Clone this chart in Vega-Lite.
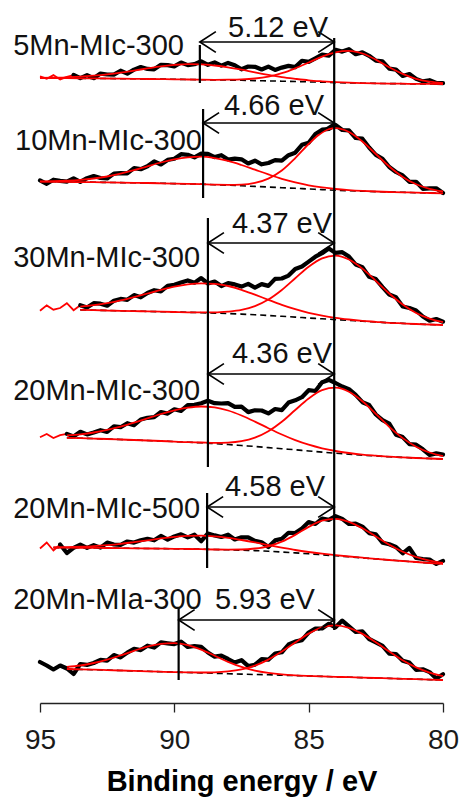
{
  "$schema": "https://vega.github.io/schema/vega-lite/v6.json",
  "width": 403,
  "height": 703,
  "autosize": {"type": "none"},
  "padding": {"left": 40, "right": 19, "top": 0, "bottom": 95},
  "background": "white",
  "config": {"view": {"stroke": null}},
  "datasets": {
    "range": [
      {"s": 1, "lo": 93.75}, {"s": 2, "lo": 95}, {"s": 3, "lo": 93.5},
      {"s": 4, "lo": 94}, {"s": 5, "lo": 94.25}, {"s": 6, "lo": 95}
    ],
    "names": [
      {"label": "5Mn-MIc-300", "x": 96, "i": 648},
      {"label": "10Mn-MIc-300", "x": 95.93, "i": 553},
      {"label": "30Mn-MIc-300", "x": 96, "i": 436},
      {"label": "20Mn-MIc-300", "x": 96, "i": 303},
      {"label": "20Mn-MIc-500", "x": 96, "i": 185},
      {"label": "20Mn-MIa-300", "x": 96, "i": 94}
    ],
    "splits": [
      {"label": "5.12 eV", "x": 86.14, "i": 666},
      {"label": "4.66 eV", "x": 86.29, "i": 588},
      {"label": "4.37 eV", "x": 85.99, "i": 470},
      {"label": "4.36 eV", "x": 85.99, "i": 340},
      {"label": "4.58 eV", "x": 86.25, "i": 207},
      {"label": "5.93 eV", "x": 86.63, "i": 94}
    ],
    "arrows": [
      {"s": 1, "x": 89.05, "x2": 84.05, "i": 661},
      {"s": 2, "x": 88.93, "x2": 84.05, "i": 580},
      {"s": 3, "x": 88.75, "x2": 84.05, "i": 460},
      {"s": 4, "x": 88.75, "x2": 84.05, "i": 329},
      {"s": 5, "x": 88.78, "x2": 84.05, "i": 196},
      {"s": 6, "x": 89.84, "x2": 84.05, "i": 83}
    ],
    "vlines": [
      {"x": 84.05, "i": 665, "i2": 73},
      {"x": 89.05, "i": 658, "i2": 620},
      {"x": 88.93, "i": 594, "i2": 505},
      {"x": 88.75, "i": 485, "i2": 236},
      {"x": 88.78, "i": 210, "i2": 135},
      {"x": 89.84, "i": 96, "i2": 23}
    ],
    "fit": [
      {"s":1,"x":95,"b":625,"p":625.2,"q":625},
      {"s":1,"x":94.5,"b":624.9,"p":625.4,"q":624.9},
      {"s":1,"x":94,"b":624.8,"p":625.7,"q":624.8},
      {"s":1,"x":93.5,"b":624.7,"p":626.3,"q":624.7},
      {"s":1,"x":93,"b":624.6,"p":627.3,"q":624.6},
      {"s":1,"x":92.5,"b":624.5,"p":628.6,"q":624.5},
      {"s":1,"x":92,"b":624.3,"p":630.3,"q":624.3},
      {"s":1,"x":91.5,"b":624.2,"p":632.4,"q":624.2},
      {"s":1,"x":91,"b":624,"p":634.6,"q":624},
      {"s":1,"x":90.5,"b":623.9,"p":636.7,"q":623.9},
      {"s":1,"x":90,"b":623.7,"p":638.1,"q":623.7},
      {"s":1,"x":89.5,"b":623.5,"p":638.9,"q":623.5},
      {"s":1,"x":89,"b":623.3,"p":638.7,"q":623.3},
      {"s":1,"x":88.5,"b":623.1,"p":637.5,"q":623.2},
      {"s":1,"x":88,"b":622.9,"p":635.7,"q":623.3},
      {"s":1,"x":87.5,"b":622.7,"p":633.3,"q":623.6},
      {"s":1,"x":87,"b":622.4,"p":630.6,"q":624.5},
      {"s":1,"x":86.5,"b":622.1,"p":628.1,"q":626.4},
      {"s":1,"x":86,"b":621.8,"p":625.9,"q":629.8},
      {"s":1,"x":85.5,"b":621.5,"p":624.2,"q":634.7},
      {"s":1,"x":85,"b":621.1,"p":622.7,"q":640.5},
      {"s":1,"x":84.5,"b":620.8,"p":621.7,"q":646.4},
      {"s":1,"x":84,"b":620.4,"p":620.9,"q":650.7},
      {"s":1,"x":83.5,"b":620.1,"p":620.3,"q":652.1},
      {"s":1,"x":83,"b":619.8,"p":619.9,"q":649.5},
      {"s":1,"x":82.5,"b":619.6,"p":619.6,"q":643.4},
      {"s":1,"x":82,"b":619.4,"p":619.4,"q":635.8},
      {"s":1,"x":81.5,"b":619.3,"p":619.3,"q":629.1},
      {"s":1,"x":81,"b":619.1,"p":619.1,"q":624.1},
      {"s":1,"x":80.5,"b":619.1,"p":619.1,"q":621.3},
      {"s":1,"x":80,"b":619,"p":619,"q":619.9},

      {"s":2,"x":95,"b":521.3,"p":521.6,"q":521.3},
      {"s":2,"x":94.5,"b":521.2,"p":521.8,"q":521.2},
      {"s":2,"x":94,"b":521.1,"p":522.3,"q":521.1},
      {"s":2,"x":93.5,"b":520.9,"p":523.1,"q":520.9},
      {"s":2,"x":93,"b":520.8,"p":524.5,"q":520.8},
      {"s":2,"x":92.5,"b":520.6,"p":526.5,"q":520.6},
      {"s":2,"x":92,"b":520.4,"p":529.3,"q":520.4},
      {"s":2,"x":91.5,"b":520.2,"p":532.8,"q":520.2},
      {"s":2,"x":91,"b":520,"p":536.7,"q":520},
      {"s":2,"x":90.5,"b":519.7,"p":540.5,"q":519.7},
      {"s":2,"x":90,"b":519.4,"p":543.7,"q":519.4},
      {"s":2,"x":89.5,"b":519.1,"p":545.7,"q":519.1},
      {"s":2,"x":89,"b":518.8,"p":546.3,"q":518.8},
      {"s":2,"x":88.5,"b":518.3,"p":544.9,"q":518.3},
      {"s":2,"x":88,"b":517.8,"p":542.1,"q":518.2},
      {"s":2,"x":87.5,"b":517.2,"p":538,"q":518.4},
      {"s":2,"x":87,"b":516.6,"p":533.3,"q":520.1},
      {"s":2,"x":86.5,"b":516,"p":528.6,"q":524.4},
      {"s":2,"x":86,"b":515.3,"p":524.2,"q":532.5},
      {"s":2,"x":85.5,"b":514.7,"p":520.6,"q":544.9},
      {"s":2,"x":85,"b":514,"p":517.7,"q":559},
      {"s":2,"x":84.5,"b":513.4,"p":515.6,"q":570.6},
      {"s":2,"x":84,"b":512.8,"p":514,"q":574.8},
      {"s":2,"x":83.5,"b":512.3,"p":512.9,"q":571},
      {"s":2,"x":83,"b":511.8,"p":512.1,"q":561.5},
      {"s":2,"x":82.5,"b":511.4,"p":511.5,"q":549},
      {"s":2,"x":82,"b":511,"p":511,"q":536.5},
      {"s":2,"x":81.5,"b":510.7,"p":510.7,"q":526.1},
      {"s":2,"x":81,"b":510.3,"p":510.3,"q":518.7},
      {"s":2,"x":80.5,"b":510,"p":510,"q":514.1},
      {"s":2,"x":80,"b":509.7,"p":509.7,"q":511.5},

      {"s":3,"x":93.5,"b":393.1,"p":396.3,"q":393.1},
      {"s":3,"x":93,"b":392.8,"p":397.8,"q":392.8},
      {"s":3,"x":92.5,"b":392.5,"p":399.8,"q":392.5},
      {"s":3,"x":92,"b":392.2,"p":402.6,"q":392.2},
      {"s":3,"x":91.5,"b":391.9,"p":405.9,"q":391.9},
      {"s":3,"x":91,"b":391.6,"p":409.5,"q":391.6},
      {"s":3,"x":90.5,"b":391.3,"p":413.1,"q":391.3},
      {"s":3,"x":90,"b":391,"p":416.3,"q":391},
      {"s":3,"x":89.5,"b":390.7,"p":418.6,"q":390.7},
      {"s":3,"x":89,"b":390.3,"p":419.6,"q":390.6},
      {"s":3,"x":88.5,"b":389.9,"p":419.2,"q":390.6},
      {"s":3,"x":88,"b":389.5,"p":417,"q":391.4},
      {"s":3,"x":87.5,"b":388.9,"p":413.2,"q":393.1},
      {"s":3,"x":87,"b":388.2,"p":408.3,"q":396.8},
      {"s":3,"x":86.5,"b":387.5,"p":403.2,"q":403.4},
      {"s":3,"x":86,"b":386.7,"p":398.2,"q":413},
      {"s":3,"x":85.5,"b":385.9,"p":393.8,"q":424.7},
      {"s":3,"x":85,"b":385,"p":390.1,"q":436.3},
      {"s":3,"x":84.5,"b":384.2,"p":387.3,"q":444.7},
      {"s":3,"x":84,"b":383.4,"p":385.1,"q":447.4},
      {"s":3,"x":83.5,"b":382.6,"p":383.5,"q":443.5},
      {"s":3,"x":83,"b":381.7,"p":382.2,"q":434.4},
      {"s":3,"x":82.5,"b":381,"p":381.2,"q":422.2},
      {"s":3,"x":82,"b":380.2,"p":380.2,"q":409.5},
      {"s":3,"x":81.5,"b":379.6,"p":379.6,"q":398.5},
      {"s":3,"x":81,"b":379,"p":379,"q":390},
      {"s":3,"x":80.5,"b":378.5,"p":378.5,"q":384.4},
      {"s":3,"x":80,"b":378,"p":378,"q":380.8},

      {"s":4,"x":94,"b":265.2,"p":267.6,"q":265.2},
      {"s":4,"x":93.5,"b":264.8,"p":268.7,"q":264.8},
      {"s":4,"x":93,"b":264.4,"p":270.5,"q":264.4},
      {"s":4,"x":92.5,"b":264,"p":273.1,"q":264},
      {"s":4,"x":92,"b":263.5,"p":276.3,"q":263.5},
      {"s":4,"x":91.5,"b":263,"p":280.3,"q":263},
      {"s":4,"x":91,"b":262.5,"p":284.7,"q":262.5},
      {"s":4,"x":90.5,"b":262,"p":289,"q":262},
      {"s":4,"x":90,"b":261.4,"p":292.7,"q":261.4},
      {"s":4,"x":89.5,"b":260.8,"p":295.3,"q":260.8},
      {"s":4,"x":89,"b":260.2,"p":296.5,"q":260.5},
      {"s":4,"x":88.5,"b":259.4,"p":295.6,"q":260.1},
      {"s":4,"x":88,"b":258.5,"p":292.5,"q":260.4},
      {"s":4,"x":87.5,"b":257.5,"p":287.5,"q":261.8},
      {"s":4,"x":87,"b":256.5,"p":281.4,"q":265.3},
      {"s":4,"x":86.5,"b":255.4,"p":274.8,"q":271.7},
      {"s":4,"x":86,"b":254.3,"p":268.5,"q":281.2},
      {"s":4,"x":85.5,"b":253.2,"p":262.9,"q":293},
      {"s":4,"x":85,"b":252,"p":258.3,"q":304.5},
      {"s":4,"x":84.5,"b":250.9,"p":254.7,"q":312.9},
      {"s":4,"x":84,"b":249.8,"p":252,"q":315.3},
      {"s":4,"x":83.5,"b":248.8,"p":250,"q":311.2},
      {"s":4,"x":83,"b":247.8,"p":248.4,"q":301.7},
      {"s":4,"x":82.5,"b":247,"p":247.3,"q":289.2},
      {"s":4,"x":82,"b":246.2,"p":246.3,"q":276.2},
      {"s":4,"x":81.5,"b":245.6,"p":245.6,"q":264.9},
      {"s":4,"x":81,"b":245,"p":245,"q":256.3},
      {"s":4,"x":80.5,"b":244.5,"p":244.5,"q":250.5},
      {"s":4,"x":80,"b":244,"p":244,"q":246.9},

      {"s":5,"x":94.5,"b":155.4,"p":155.7,"q":155.4},
      {"s":5,"x":94,"b":155.3,"p":155.9,"q":155.3},
      {"s":5,"x":93.5,"b":155.2,"p":156.3,"q":155.2},
      {"s":5,"x":93,"b":155.1,"p":156.9,"q":155.1},
      {"s":5,"x":92.5,"b":155,"p":157.9,"q":155},
      {"s":5,"x":92,"b":154.8,"p":159.2,"q":154.8},
      {"s":5,"x":91.5,"b":154.7,"p":160.9,"q":154.7},
      {"s":5,"x":91,"b":154.5,"p":162.7,"q":154.5},
      {"s":5,"x":90.5,"b":154.4,"p":164.6,"q":154.4},
      {"s":5,"x":90,"b":154.2,"p":166.1,"q":154.2},
      {"s":5,"x":89.5,"b":154,"p":167.1,"q":154},
      {"s":5,"x":89,"b":153.8,"p":167.3,"q":153.8},
      {"s":5,"x":88.5,"b":153.5,"p":166.6,"q":153.5},
      {"s":5,"x":88,"b":153.2,"p":165.1,"q":153.4},
      {"s":5,"x":87.5,"b":152.8,"p":163,"q":153.5},
      {"s":5,"x":87,"b":152.4,"p":160.6,"q":154.5},
      {"s":5,"x":86.5,"b":151.7,"p":157.9,"q":156.7},
      {"s":5,"x":86,"b":151,"p":155.4,"q":161.3},
      {"s":5,"x":85.5,"b":150.1,"p":153,"q":168.1},
      {"s":5,"x":85,"b":149.2,"p":151,"q":176.1},
      {"s":5,"x":84.5,"b":148.2,"p":149.3,"q":182.4},
      {"s":5,"x":84,"b":147.2,"p":147.8,"q":184.2},
      {"s":5,"x":83.5,"b":146.2,"p":146.5,"q":181.2},
      {"s":5,"x":83,"b":145.1,"p":145.3,"q":174.7},
      {"s":5,"x":82.5,"b":144.1,"p":144.1,"q":166.6},
      {"s":5,"x":82,"b":143,"p":143,"q":158.2},
      {"s":5,"x":81.5,"b":142,"p":142,"q":151.2},
      {"s":5,"x":81,"b":141,"p":141,"q":146},
      {"s":5,"x":80.5,"b":140,"p":140,"q":142.4},
      {"s":5,"x":80,"b":139,"p":139,"q":140.1},

      {"s":6,"x":94,"b":34,"p":36.1,"q":34},
      {"s":6,"x":93.5,"b":33.6,"p":37.5,"q":33.6},
      {"s":6,"x":93,"b":33.3,"p":40,"q":33.3},
      {"s":6,"x":92.5,"b":32.9,"p":43.3,"q":32.9},
      {"s":6,"x":92,"b":32.5,"p":47.6,"q":32.5},
      {"s":6,"x":91.5,"b":32.1,"p":52.2,"q":32.1},
      {"s":6,"x":91,"b":31.7,"p":56.3,"q":31.7},
      {"s":6,"x":90.5,"b":31.3,"p":59.1,"q":31.3},
      {"s":6,"x":90,"b":30.9,"p":59.9,"q":30.9},
      {"s":6,"x":89.5,"b":30.5,"p":57.9,"q":30.6},
      {"s":6,"x":89,"b":30.1,"p":53.3,"q":30.5},
      {"s":6,"x":88.5,"b":29.7,"p":47.3,"q":30.7},
      {"s":6,"x":88,"b":29.3,"p":41.2,"q":31.6},
      {"s":6,"x":87.5,"b":28.9,"p":36.1,"q":33.6},
      {"s":6,"x":87,"b":28.5,"p":32.4,"q":37.4},
      {"s":6,"x":86.5,"b":28.2,"p":30.1,"q":43.4},
      {"s":6,"x":86,"b":27.8,"p":28.6,"q":51.4},
      {"s":6,"x":85.5,"b":27.4,"p":27.7,"q":60.6},
      {"s":6,"x":85,"b":27,"p":27.1,"q":69.4},
      {"s":6,"x":84.5,"b":26.6,"p":26.6,"q":75.6},
      {"s":6,"x":84,"b":26.2,"p":26.2,"q":77.7},
      {"s":6,"x":83.5,"b":25.8,"p":25.8,"q":75.2},
      {"s":6,"x":83,"b":25.4,"p":25.4,"q":69.1},
      {"s":6,"x":82.5,"b":25,"p":25,"q":60.7},
      {"s":6,"x":82,"b":24.6,"p":24.6,"q":51.4},
      {"s":6,"x":81.5,"b":24.2,"p":24.2,"q":42.7},
      {"s":6,"x":81,"b":23.8,"p":23.8,"q":35.6},
      {"s":6,"x":80.5,"b":23.4,"p":23.4,"q":30.4},
      {"s":6,"x":80,"b":23,"p":23,"q":26.8}
    ],
    "raw": [
      {"s":1,"x":95,"i":626.7},{"s":1,"x":94.75,"i":624.3},{"s":1,"x":94.5,"i":627.9},{"s":1,"x":94.25,"i":623.6},
      {"s":1,"x":94,"i":626.2},{"s":1,"x":93.75,"i":628},{"s":1,"x":93.5,"i":624.8},{"s":1,"x":93.25,"i":627.8},
      {"s":1,"x":93,"i":624.8},{"s":1,"x":92.75,"i":629.4},{"s":1,"x":92.5,"i":628.5},{"s":1,"x":92.25,"i":628.4},
      {"s":1,"x":92,"i":632.3},{"s":1,"x":91.75,"i":629.4},{"s":1,"x":91.5,"i":633.4},{"s":1,"x":91.25,"i":636},
      {"s":1,"x":91,"i":634.1},{"s":1,"x":90.75,"i":633.7},{"s":1,"x":90.5,"i":638.2},{"s":1,"x":90.25,"i":637.9},
      {"s":1,"x":90,"i":636.6},{"s":1,"x":89.75,"i":640.5},{"s":1,"x":89.5,"i":637.9},{"s":1,"x":89.25,"i":638.8},
      {"s":1,"x":89,"i":641.7},{"s":1,"x":88.75,"i":638.2},{"s":1,"x":88.5,"i":640.6},{"s":1,"x":88.25,"i":637.4},
      {"s":1,"x":88,"i":640.1},{"s":1,"x":87.75,"i":637.7},{"s":1,"x":87.5,"i":633.7},{"s":1,"x":87.25,"i":636.5},
      {"s":1,"x":87,"i":636.2},{"s":1,"x":86.75,"i":633.5},{"s":1,"x":86.5,"i":636.4},{"s":1,"x":86.25,"i":633.1},
      {"s":1,"x":86,"i":635.4},{"s":1,"x":85.75,"i":637.1},{"s":1,"x":85.5,"i":635.9},{"s":1,"x":85.25,"i":642.2},
      {"s":1,"x":85,"i":641.1},{"s":1,"x":84.75,"i":644.7},{"s":1,"x":84.5,"i":648.3},{"s":1,"x":84.25,"i":647.3},
      {"s":1,"x":84,"i":653.2},{"s":1,"x":83.75,"i":651.4},{"s":1,"x":83.5,"i":653.8},{"s":1,"x":83.25,"i":648.8},
      {"s":1,"x":83,"i":650.6},{"s":1,"x":82.75,"i":647.2},{"s":1,"x":82.5,"i":642.4},{"s":1,"x":82.25,"i":641.7},
      {"s":1,"x":82,"i":634.3},{"s":1,"x":81.75,"i":633.4},{"s":1,"x":81.5,"i":627.1},{"s":1,"x":81.25,"i":629},
      {"s":1,"x":81,"i":624.1},{"s":1,"x":80.75,"i":621.6},{"s":1,"x":80.5,"i":622.8},{"s":1,"x":80.25,"i":620},
      {"s":1,"x":80,"i":619.9},

      {"s":2,"x":95,"i":522.6},{"s":2,"x":94.75,"i":519.2},{"s":2,"x":94.5,"i":523.3},{"s":2,"x":94.25,"i":522.1},
      {"s":2,"x":94,"i":521.3},{"s":2,"x":93.75,"i":524.7},{"s":2,"x":93.5,"i":521.1},{"s":2,"x":93.25,"i":524.8},
      {"s":2,"x":93,"i":527},{"s":2,"x":92.75,"i":525},{"s":2,"x":92.5,"i":524.5},{"s":2,"x":92.25,"i":529.4},
      {"s":2,"x":92,"i":529.8},{"s":2,"x":91.75,"i":529.6},{"s":2,"x":91.5,"i":534.8},{"s":2,"x":91.25,"i":533.8},
      {"s":2,"x":91,"i":536.7},{"s":2,"x":90.75,"i":541.6},{"s":2,"x":90.5,"i":538.5},{"s":2,"x":90.25,"i":543.1},
      {"s":2,"x":90,"i":544.2},{"s":2,"x":89.75,"i":548.8},{"s":2,"x":89.5,"i":548.2},{"s":2,"x":89.25,"i":545.6},
      {"s":2,"x":89,"i":549.3},{"s":2,"x":88.75,"i":549.2},{"s":2,"x":88.5,"i":545.9},{"s":2,"x":88.25,"i":547.8},
      {"s":2,"x":88,"i":543.5},{"s":2,"x":87.75,"i":544.4},{"s":2,"x":87.5,"i":543.7},{"s":2,"x":87.25,"i":539.5},
      {"s":2,"x":87,"i":542.3},{"s":2,"x":86.75,"i":538.7},{"s":2,"x":86.5,"i":540},{"s":2,"x":86.25,"i":542.9},
      {"s":2,"x":86,"i":542.4},{"s":2,"x":85.75,"i":547.8},{"s":2,"x":85.5,"i":550.3},{"s":2,"x":85.25,"i":558.2},
      {"s":2,"x":85,"i":560.2},{"s":2,"x":84.75,"i":569},{"s":2,"x":84.5,"i":573.3},{"s":2,"x":84.25,"i":574},
      {"s":2,"x":84,"i":578},{"s":2,"x":83.75,"i":573},{"s":2,"x":83.5,"i":572.6},{"s":2,"x":83.25,"i":565},
      {"s":2,"x":83,"i":564.3},{"s":2,"x":82.75,"i":555.5},{"s":2,"x":82.5,"i":548.1},{"s":2,"x":82.25,"i":544.2},
      {"s":2,"x":82,"i":536},{"s":2,"x":81.75,"i":531},{"s":2,"x":81.5,"i":527.6},{"s":2,"x":81.25,"i":521.2},
      {"s":2,"x":81,"i":521.2},{"s":2,"x":80.75,"i":514.2},{"s":2,"x":80.5,"i":514.6},{"s":2,"x":80.25,"i":514.7},
      {"s":2,"x":80,"i":510},

      {"s":3,"x":95,"i":392.2},{"s":3,"x":94.75,"i":397.6},{"s":3,"x":94.5,"i":393.3},{"s":3,"x":94.25,"i":395},
      {"s":3,"x":94,"i":399.8},{"s":3,"x":93.75,"i":392.8},{"s":3,"x":93.5,"i":397.8},{"s":3,"x":93.25,"i":395.5},
      {"s":3,"x":93,"i":399.8},{"s":3,"x":92.75,"i":399.3},{"s":3,"x":92.5,"i":397.3},{"s":3,"x":92.25,"i":402.2},
      {"s":3,"x":92,"i":404.1},{"s":3,"x":91.75,"i":403.2},{"s":3,"x":91.5,"i":407.9},{"s":3,"x":91.25,"i":405.7},
      {"s":3,"x":91,"i":410},{"s":3,"x":90.75,"i":412.8},{"s":3,"x":90.5,"i":411.6},{"s":3,"x":90.25,"i":417.2},
      {"s":3,"x":90,"i":418.3},{"s":3,"x":89.75,"i":420.5},{"s":3,"x":89.5,"i":422.6},{"s":3,"x":89.25,"i":420.3},
      {"s":3,"x":89,"i":424.9},{"s":3,"x":88.75,"i":419.5},{"s":3,"x":88.5,"i":421.4},{"s":3,"x":88.25,"i":416.9},
      {"s":3,"x":88,"i":419.9},{"s":3,"x":87.75,"i":418.6},{"s":3,"x":87.5,"i":416.4},{"s":3,"x":87.25,"i":419.1},
      {"s":3,"x":87,"i":415.4},{"s":3,"x":86.75,"i":418.9},{"s":3,"x":86.5,"i":417.1},{"s":3,"x":86.25,"i":424.1},
      {"s":3,"x":86,"i":424.5},{"s":3,"x":85.75,"i":427.4},{"s":3,"x":85.5,"i":434.1},{"s":3,"x":85.25,"i":436.5},
      {"s":3,"x":85,"i":441.4},{"s":3,"x":84.75,"i":446.3},{"s":3,"x":84.5,"i":449.8},{"s":3,"x":84.25,"i":454.4},
      {"s":3,"x":84,"i":450.1},{"s":3,"x":83.75,"i":450.8},{"s":3,"x":83.5,"i":446.4},{"s":3,"x":83.25,"i":438.5},
      {"s":3,"x":83,"i":435.9},{"s":3,"x":82.75,"i":426.2},{"s":3,"x":82.5,"i":423.9},{"s":3,"x":82.25,"i":415.8},
      {"s":3,"x":82,"i":408.5},{"s":3,"x":81.75,"i":405.8},{"s":3,"x":81.5,"i":396.5},{"s":3,"x":81.25,"i":395},
      {"s":3,"x":81,"i":392.5},{"s":3,"x":80.75,"i":386.5},{"s":3,"x":80.5,"i":382.4},{"s":3,"x":80.25,"i":384},
      {"s":3,"x":80,"i":381.3},

      {"s":4,"x":95,"i":265.8},{"s":4,"x":94.75,"i":269},{"s":4,"x":94.5,"i":265},{"s":4,"x":94.25,"i":267.8},
      {"s":4,"x":94,"i":269.1},{"s":4,"x":93.75,"i":266.6},{"s":4,"x":93.5,"i":271.2},{"s":4,"x":93.25,"i":268.6},
      {"s":4,"x":93,"i":270.5},{"s":4,"x":92.75,"i":272.8},{"s":4,"x":92.5,"i":271.1},{"s":4,"x":92.25,"i":276.7},
      {"s":4,"x":92,"i":275.8},{"s":4,"x":91.75,"i":279.8},{"s":4,"x":91.5,"i":277.8},{"s":4,"x":91.25,"i":283.5},
      {"s":4,"x":91,"i":285.2},{"s":4,"x":90.75,"i":285.9},{"s":4,"x":90.5,"i":291},{"s":4,"x":90.25,"i":289.4},
      {"s":4,"x":90,"i":293.7},{"s":4,"x":89.75,"i":292.1},{"s":4,"x":89.5,"i":297.8},{"s":4,"x":89.25,"i":298.2},
      {"s":4,"x":89,"i":299.8},{"s":4,"x":88.75,"i":302.2},{"s":4,"x":88.5,"i":299.8},{"s":4,"x":88.25,"i":299.5},
      {"s":4,"x":88,"i":299.9},{"s":4,"x":87.75,"i":296.1},{"s":4,"x":87.5,"i":296.3},{"s":4,"x":87.25,"i":290.9},
      {"s":4,"x":87,"i":292.7},{"s":4,"x":86.75,"i":292.5},{"s":4,"x":86.5,"i":289.6},{"s":4,"x":86.25,"i":294},
      {"s":4,"x":86,"i":292.9},{"s":4,"x":85.75,"i":300.4},{"s":4,"x":85.5,"i":302.7},{"s":4,"x":85.25,"i":305.8},
      {"s":4,"x":85,"i":312.8},{"s":4,"x":84.75,"i":312},{"s":4,"x":84.5,"i":320.7},{"s":4,"x":84.25,"i":323.1},
      {"s":4,"x":84,"i":320},{"s":4,"x":83.75,"i":316.5},{"s":4,"x":83.5,"i":313.9},{"s":4,"x":83.25,"i":308.1},
      {"s":4,"x":83,"i":300.8},{"s":4,"x":82.75,"i":298},{"s":4,"x":82.5,"i":288.5},{"s":4,"x":82.25,"i":282.8},
      {"s":4,"x":82,"i":279.3},{"s":4,"x":81.75,"i":268.3},{"s":4,"x":81.5,"i":265.9},{"s":4,"x":81.25,"i":258.9},
      {"s":4,"x":81,"i":258.3},{"s":4,"x":80.75,"i":253.7},{"s":4,"x":80.5,"i":248},{"s":4,"x":80.25,"i":249.6},
      {"s":4,"x":80,"i":248.4},

      {"s":5,"x":95,"i":154.5},{"s":5,"x":94.75,"i":160.5},{"s":5,"x":94.5,"i":152.5},{"s":5,"x":94.25,"i":158.5},
      {"s":5,"x":94,"i":150},{"s":5,"x":93.75,"i":155.1},{"s":5,"x":93.5,"i":158.3},{"s":5,"x":93.25,"i":155.1},
      {"s":5,"x":93,"i":157.9},{"s":5,"x":92.75,"i":155.4},{"s":5,"x":92.5,"i":160.4},{"s":5,"x":92.25,"i":158.5},
      {"s":5,"x":92,"i":158.2},{"s":5,"x":91.75,"i":161.5},{"s":5,"x":91.5,"i":160.4},{"s":5,"x":91.25,"i":162.8},
      {"s":5,"x":91,"i":164.2},{"s":5,"x":90.75,"i":162.7},{"s":5,"x":90.5,"i":167.1},{"s":5,"x":90.25,"i":163.4},
      {"s":5,"x":90,"i":166.6},{"s":5,"x":89.75,"i":168.7},{"s":5,"x":89.5,"i":165.6},{"s":5,"x":89.25,"i":168.3},
      {"s":5,"x":89,"i":161.8},{"s":5,"x":88.75,"i":169.5},{"s":5,"x":88.5,"i":167.6},{"s":5,"x":88.25,"i":166},
      {"s":5,"x":88,"i":168.3},{"s":5,"x":87.75,"i":163.5},{"s":5,"x":87.5,"i":165.7},{"s":5,"x":87.25,"i":165.6},
      {"s":5,"x":87,"i":162.2},{"s":5,"x":86.75,"i":160.7},{"s":5,"x":86.5,"i":156},{"s":5,"x":86.25,"i":162.6},
      {"s":5,"x":86,"i":164.2},{"s":5,"x":85.75,"i":170.2},{"s":5,"x":85.5,"i":170},{"s":5,"x":85.25,"i":174.5},
      {"s":5,"x":85,"i":180.9},{"s":5,"x":84.75,"i":179},{"s":5,"x":84.5,"i":184.5},{"s":5,"x":84.25,"i":183.1},
      {"s":5,"x":84,"i":186.8},{"s":5,"x":83.75,"i":184.1},{"s":5,"x":83.5,"i":179},{"s":5,"x":83.25,"i":179.4},
      {"s":5,"x":83,"i":176.4},{"s":5,"x":82.75,"i":169.9},{"s":5,"x":82.5,"i":168.6},{"s":5,"x":82.25,"i":160.3},
      {"s":5,"x":82,"i":158.7},{"s":5,"x":81.75,"i":156},{"s":5,"x":81.5,"i":149.7},{"s":5,"x":81.25,"i":155},
      {"s":5,"x":81,"i":145},{"s":5,"x":80.75,"i":144},{"s":5,"x":80.5,"i":143.4},{"s":5,"x":80.25,"i":139.1},
      {"s":5,"x":80,"i":142.1},

      {"s":6,"x":95,"i":41},{"s":6,"x":94.75,"i":37.5},{"s":6,"x":94.5,"i":33.5},{"s":6,"x":94.25,"i":37.5},
      {"s":6,"x":94,"i":34.5},{"s":6,"x":93.75,"i":29},{"s":6,"x":93.5,"i":39},{"s":6,"x":93.25,"i":38.1},
      {"s":6,"x":93,"i":40},{"s":6,"x":92.75,"i":43.1},{"s":6,"x":92.5,"i":42.3},{"s":6,"x":92.25,"i":47.9},
      {"s":6,"x":92,"i":45.6},{"s":6,"x":91.75,"i":50.4},{"s":6,"x":91.5,"i":54.2},{"s":6,"x":91.25,"i":52.9},
      {"s":6,"x":91,"i":57.3},{"s":6,"x":90.75,"i":55.4},{"s":6,"x":90.5,"i":60.6},{"s":6,"x":90.25,"i":59.7},
      {"s":6,"x":90,"i":58.9},{"s":6,"x":89.75,"i":61.3},{"s":6,"x":89.5,"i":56},{"s":6,"x":89.25,"i":57},
      {"s":6,"x":89,"i":56.2},{"s":6,"x":88.75,"i":50.5},{"s":6,"x":88.5,"i":46.3},{"s":6,"x":88.25,"i":47.3},
      {"s":6,"x":88,"i":44},{"s":6,"x":87.75,"i":40.4},{"s":6,"x":87.5,"i":42.8},{"s":6,"x":87.25,"i":36.9},
      {"s":6,"x":87,"i":38.3},{"s":6,"x":86.75,"i":43.9},{"s":6,"x":86.5,"i":43.3},{"s":6,"x":86.25,"i":49.5},
      {"s":6,"x":86,"i":50.7},{"s":6,"x":85.75,"i":58.5},{"s":6,"x":85.5,"i":61.4},{"s":6,"x":85.25,"i":62.9},
      {"s":6,"x":85,"i":70.5},{"s":6,"x":84.75,"i":74.5},{"s":6,"x":84.5,"i":74.6},{"s":6,"x":84.25,"i":79.2},
      {"s":6,"x":84,"i":75.7},{"s":6,"x":83.75,"i":82.4},{"s":6,"x":83.5,"i":76.7},{"s":6,"x":83.25,"i":71},
      {"s":6,"x":83,"i":71.6},{"s":6,"x":82.75,"i":64},{"s":6,"x":82.5,"i":60.7},{"s":6,"x":82.25,"i":57.1},
      {"s":6,"x":82,"i":49.4},{"s":6,"x":81.75,"i":48.9},{"s":6,"x":81.5,"i":42.2},{"s":6,"x":81.25,"i":40.4},
      {"s":6,"x":81,"i":33.1},{"s":6,"x":80.75,"i":33.7},{"s":6,"x":80.5,"i":30.9},{"s":6,"x":80.25,"i":24.5},
      {"s":6,"x":80,"i":28.8}
    ]
  },
  "encoding": {
    "x": {
      "field": "x",
      "type": "quantitative",
      "scale": {"domain": [80, 95], "reverse": true, "nice": false, "zero": false},
      "axis": {
        "values": [95, 90, 85, 80],
        "format": "d",
        "grid": false,
        "title": "Binding energy / eV",
        "titleFont": "Liberation Sans",
        "titleFontSize": 29,
        "titleFontWeight": "bold",
        "titleColor": "#000000",
        "titleBaseline": "alphabetic",
        "titleY": 87,
        "labelFont": "Liberation Sans",
        "labelFontSize": 28,
        "labelColor": "#1a1a1a",
        "labelPadding": 14,
        "labelFlush": false,
        "labelOverlap": false,
        "tickSize": 9,
        "tickWidth": 1.3,
        "tickColor": "#222222",
        "domainColor": "#222222",
        "domainWidth": 1.3
      }
    },
    "y": {
      "field": "i",
      "type": "quantitative",
      "scale": {"domain": [0, 703], "nice": false, "zero": false},
      "axis": null
    }
  },
  "layer": [
    {
      "data": {"name": "fit"},
      "transform": [
        {"fold": ["b", "p", "q"], "as": ["c", "i"]},
        {"filter": "datum.c === 'b'"}
      ],
      "mark": {"type": "line", "color": "#000000", "strokeWidth": 1.6, "strokeDash": [6, 4], "interpolate": "monotone"},
      "encoding": {"detail": {"field": "s"}}
    },
    {
      "data": {"name": "raw"},
      "transform": [
        {"lookup": "s", "from": {"data": {"name": "range"}, "key": "s", "fields": ["lo"]}},
        {"filter": "datum.x >= datum.lo"}
      ],
      "mark": {"type": "line", "color": "#ff0000", "strokeWidth": 1.8},
      "encoding": {"detail": {"field": "s"}}
    },
    {
      "data": {"name": "raw"},
      "transform": [
        {"lookup": "s", "from": {"data": {"name": "range"}, "key": "s", "fields": ["lo"]}},
        {"filter": "datum.x <= datum.lo"}
      ],
      "mark": {"type": "line", "color": "#000000", "strokeWidth": 4.2, "strokeJoin": "round", "strokeCap": "round"},
      "encoding": {"detail": {"field": "s"}}
    },
    {
      "data": {"name": "fit"},
      "transform": [
        {"fold": ["b", "p", "q"], "as": ["c", "i"]},
        {"filter": "datum.c !== 'b'"}
      ],
      "mark": {"type": "line", "color": "#ff0000", "strokeWidth": 1.8, "interpolate": "monotone"},
      "encoding": {"detail": [{"field": "s"}, {"field": "c"}]}
    },
    {
      "data": {"name": "vlines"},
      "mark": {"type": "rule", "color": "#000000", "strokeWidth": 2.2},
      "encoding": {"y2": {"field": "i2"}}
    },
    {
      "data": {"name": "arrows"},
      "mark": {"type": "rule", "color": "#000000", "strokeWidth": 1.7},
      "encoding": {"x2": {"field": "x2"}}
    },
    {
      "data": {"name": "arrows"},
      "transform": [{"fold": ["x", "x2"], "as": ["end", "x"]}],
      "mark": {"type": "point", "filled": false, "size": 1024, "strokeWidth": 1.7, "color": "#000000", "opacity": 1},
      "encoding": {
        "shape": {
          "field": "end",
          "type": "nominal",
          "scale": {"domain": ["x", "x2"], "range": ["M1,-0.65L0,0L1,0.65", "M-1,-0.65L0,0L-1,0.65"]},
          "legend": null
        }
      }
    },
    {
      "data": {"name": "names"},
      "mark": {"type": "text", "align": "left", "baseline": "alphabetic", "font": "Liberation Sans", "fontSize": 29, "color": "#111111"},
      "encoding": {"text": {"field": "label"}}
    },
    {
      "data": {"name": "splits"},
      "mark": {"type": "text", "align": "center", "baseline": "alphabetic", "font": "Liberation Sans", "fontSize": 29, "color": "#111111"},
      "encoding": {"text": {"field": "label"}}
    }
  ]
}
